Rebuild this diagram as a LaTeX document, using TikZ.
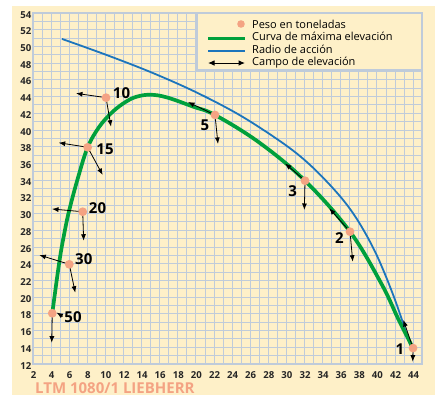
\documentclass[tikz,border=0pt]{standalone}
\usepackage{fontspec}
\setmainfont{Open Sans}
\usetikzlibrary{arrows.meta}
\definecolor{cream}{HTML}{FEF0C8}
\definecolor{gridc}{HTML}{BFCBDA}
\definecolor{salmon}{HTML}{F4A383}
\definecolor{crvgreen}{HTML}{00A03C}
\definecolor{crvblue}{HTML}{1C75BC}
\begin{document}
\begin{tikzpicture}[x=1pt,y=-1pt,
  fld/.style={line width=0.8pt, -{Latex[length=6.5pt,width=5pt]}},
  wdot/.style={circle, fill=salmon, inner sep=0pt, minimum size=8.8pt},
  wlabel/.style={font=\bfseries\fontsize{15}{15}\selectfont, inner sep=0pt},
  ytick/.style={font=\bfseries\fontsize{9.6}{9.6}\selectfont, anchor=east, inner sep=0pt, text=black!85},
  xtick/.style={font=\bfseries\fontsize{9.6}{9.6}\selectfont, inner sep=0pt, text=black!85},
  legtext/.style={font=\fontsize{11}{11}\selectfont, anchor=base west, inner sep=0pt},
  gridline/.style={gridc, line width=0.9pt}
]
\useasboundingbox (0,0) rectangle (444,394);
\fill[cream] (12,6) rectangle (434.5,400);

% tick labels
\foreach \v in {12,14,...,54} \node[ytick] (yt\v) at (31.5, {465.9-8.357*\v}) {\v};
\foreach \u in {2,4,...,44} \node[xtick] (xt\u) at ({15.4+9.05*\u}, 375.5) {\u};

\begin{scope}[shift={(14.9,464.284)}, x=9.05pt, y=8.357pt]
  \foreach \u in {2,...,45} \draw[gridline] (\u,12) -- (\u,54);
  \foreach \v in {12,...,54} \draw[gridline] (2,\v) -- (45,\v);
  \draw[gridc, line width=1.8pt] (2,12) rectangle (45,54);

  % radio de accion
  \draw[crvblue, line width=1.8pt] plot[smooth, tension=0.55] coordinates {
    (5.2,50.9) (10,49.03) (15,46.93) (20,44.53) (25,41.68) (30,38.13)
    (33,35.43) (36,31.98) (38,28.98) (40,24.98) (42,19.68) (43.7,14.18)};
  % curva de maxima elevacion
  \draw[crvgreen, line width=3.7pt] plot[smooth, tension=0.6] coordinates {
    (4.13,18.07) (4.91,24.24) (5.46,27.64) (6.01,30.43) (7.0,34.4) (8.04,37.93)
    (9.33,40.4) (10.81,42.19) (12.28,43.39) (13.5,44.0) (15,44.22) (16.8,43.9)
    (19.68,42.8) (22.11,41.8) (27,38.5) (32.06,33.93) (37.03,27.83) (40.5,21.6)
    (42.4,17.3) (43.99,13.91)};

  % points
  \coordinate (p50) at (4.13,18.07);
  \coordinate (p30) at (6.01,23.93);
  \coordinate (p20) at (7.49,30.22);
  \coordinate (p15) at (8.04,37.93);
  \coordinate (p10) at (10.07,43.87);
  \coordinate (p5) at (22.11,41.80);
  \coordinate (p3) at (32.06,33.93);
  \coordinate (p2) at (37.03,27.83);
  \coordinate (p1) at (43.99,13.91);

  \coordinate (h10) at (6.75,44.39);  \coordinate (v10) at (10.62,40.40);
  \coordinate (h15) at (4.84,38.48);  \coordinate (v15) at (9.70,34.62);
  \coordinate (h20) at (4.10,30.55);  \coordinate (v20) at (7.60,26.75);
  \coordinate (h30) at (2.70,25.04);  \coordinate (v30) at (6.67,20.53);
  \coordinate (s50) at (5.30,17.70);  \coordinate (h50) at (4.60,18.16);
  \coordinate (v50) at (4.07,14.55);
  \coordinate (h5) at (19.13,43.35);  \coordinate (v5) at (22.44,38.33);
  \coordinate (h3) at (29.85,36.0);   \coordinate (v3) at (31.98,30.43);
  \coordinate (h2) at (34.74,30.63);  \coordinate (v2) at (37.33,24.24);
  \coordinate (h1) at (42.92,17.27);  \coordinate (v1) at (43.96,12.28);

  \foreach \p in {10,15,20,30,5,3,2,1} {
    \draw[fld] (p\p) -- (h\p);
    \draw[fld] (p\p) -- (v\p);
  }
  \draw[fld] (s50) -- (h50);
  \draw[fld] (p50) -- (v50);

  \foreach \p in {50,30,20,15,10,5,3,2,1}
    \node[wdot] (d\p) at (p\p) {};

  \node[wlabel] (l10) at (11.78,44.39) {10};
  \node[wlabel] (l15) at (9.96,37.73) {15};
  \node[wlabel] (l20) at (9.13,30.67) {20};
  \node[wlabel] (l30) at (7.61,24.60) {30};
  \node[wlabel] (l50) at (6.42,17.56) {50};
  \node[wlabel] (l5) at (21.0,40.6) {5};
  \node[wlabel] (l3) at (30.70,32.74) {3};
  \node[wlabel] (l2) at (35.85,27.04) {2};
  \node[wlabel] (l1) at (42.55,13.76) {1};
\end{scope}

% legend
\filldraw[fill=cream, draw=gridc, line width=1.6pt] (197,13) rectangle (422.15,70);
\node[wdot, minimum size=7.6pt] (legdot) at (241,24) {};
\coordinate (lga) at (208,38); \coordinate (lgb) at (245,38);
\coordinate (lba) at (208,51); \coordinate (lbb) at (245,51);
\coordinate (laa) at (208,63); \coordinate (lab) at (245,63);
\draw[crvgreen, line width=3pt] (lga) -- (lgb);
\draw[crvblue, line width=2pt] (lba) -- (lbb);
\draw[line width=1pt, {Latex[length=6.5pt,width=5.5pt]}-{Latex[length=6.5pt,width=5.5pt]}] (laa) -- (lab);
\node[legtext] (t1) at (252,28.3) {Peso en toneladas};
\node[legtext] (t2) at (252,40.8) {Curva de máxima elevación};
\node[legtext] (t3) at (252,53.3) {Radio de acción};
\node[legtext] (t4) at (252,65.8) {Campo de elevación};

% title
\node[anchor=base west, inner sep=0pt, text height=10.8pt, text depth=0pt, text=salmon, font=\bfseries\fontsize{15}{15}\selectfont] (title) at (35,393.4) {LTM 1080/1 LIEBHERR};
\end{tikzpicture}
\end{document}
